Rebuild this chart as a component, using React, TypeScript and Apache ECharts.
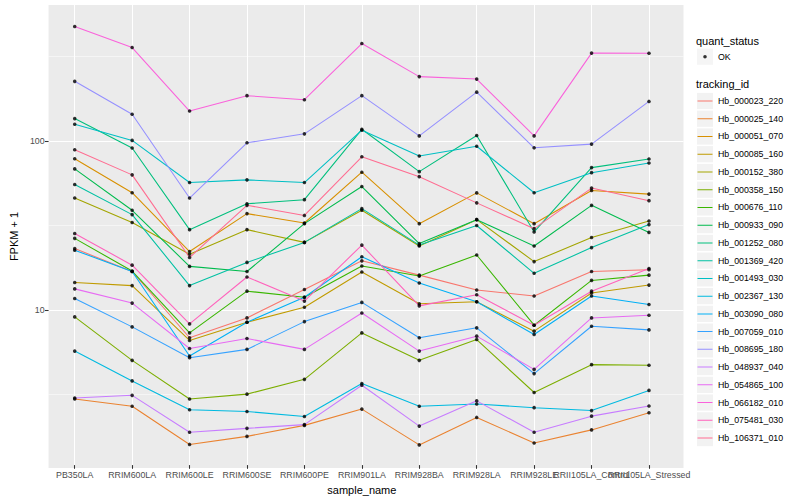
import React, { useEffect, useRef } from 'react';
import * as echarts from 'echarts';

const categories = [
  'PB350LA', 'RRIM600LA', 'RRIM600LE', 'RRIM600SE', 'RRIM600PE', 'RRIM901LA',
  'RRIM928BA', 'RRIM928LA', 'RRIM928LE', 'RRII105LA_Control', 'RRII105LA_Stressed',
];

const trackingIds = [
  'Hb_000023_220', 'Hb_000025_140', 'Hb_000051_070', 'Hb_000085_160', 'Hb_000152_380',
  'Hb_000358_150', 'Hb_000676_110', 'Hb_000933_090', 'Hb_001252_080', 'Hb_001369_420',
  'Hb_001493_030', 'Hb_002367_130', 'Hb_003090_080', 'Hb_007059_010', 'Hb_008695_180',
  'Hb_048937_040', 'Hb_054865_100', 'Hb_066182_010', 'Hb_075481_030', 'Hb_106371_010',
];

const colors = [
  '#F8766D', '#EA8331', '#D89000', '#C09B00', '#A3A500', '#7CAE00', '#39B600', '#00BB4E',
  '#00BF7D', '#00C1A3', '#00BFC4', '#00BAE0', '#00B0F6', '#35A2FF', '#9590FF', '#C77CFF',
  '#E76BF3', '#FA62DB', '#FF62BC', '#FF6C91',
];

// FPKM + 1 per sample, in the order of `categories`
const hb_000023_220 = [22.6, 16.5, 6.65, 8.73, 12.9, 19.1, 15.7, 12.8, 11.8, 16.5, 16.9];
const hb_000025_140 = [2.87, 2.6, 1.54, 1.72, 2.0, 2.5, 1.53, 2.23, 1.57, 1.88, 2.38];
const hb_000051_070 = [77.5, 48.6, 21.7, 36.5, 32.1, 64.4, 31.8, 48.5, 31.8, 50.1, 47.7];
const hb_000085_160 = [14.2, 13.6, 6.41, 8.23, 10.1, 16.4, 10.6, 10.9, 7.28, 12.3, 13.7];
const hb_000152_380 = [45.2, 32.3, 20.9, 29.3, 24.6, 38.2, 23.4, 33.6, 18.9, 26.3, 33.0];
const hb_000358_150 = [8.85, 4.88, 2.87, 3.07, 3.76, 7.11, 4.88, 6.49, 3.14, 4.6, 4.56];
const hb_000676_110 = [26.0, 16.6, 7.11, 12.6, 11.6, 17.8, 15.5, 20.7, 7.9, 14.6, 15.7];
const hb_000933_090 = [67.4, 38.2, 17.7, 16.5, 31.8, 52.9, 24.2, 33.6, 23.4, 40.9, 28.2];
const hb_001252_080 = [134.4, 89.7, 29.3, 41.8, 44.2, 116, 64.9, 106.6, 28.4, 68.6, 77.2];
const hb_001369_420 = [54.4, 36.0, 13.6, 18.7, 24.6, 39.1, 23.7, 31.0, 16.1, 22.9, 31.4];
const hb_001493_030 = [124.4, 99.6, 55.9, 58.0, 55.9, 114.6, 80.4, 91.9, 48.6, 64.0, 73.1];
const hb_002367_130 = [5.54, 3.68, 2.48, 2.42, 2.26, 3.55, 2.6, 2.68, 2.55, 2.45, 3.23];
const hb_003090_080 = [22.1, 16.5, 5.18, 8.23, 11.6, 20.2, 14.1, 10.9, 6.95, 11.8, 10.5];
const hb_007059_010 = [11.4, 7.72, 5.06, 5.67, 8.3, 10.8, 6.65, 7.62, 4.07, 7.79, 7.41];
const hb_008695_180 = [224, 142.5, 45.2, 96.4, 109, 184, 106, 193, 90.0, 94.7, 170];
const hb_048937_040 = [2.91, 3.02, 1.82, 1.92, 2.02, 3.47, 1.98, 2.8, 1.82, 2.27, 2.61];
const hb_054865_100 = [13.0, 10.7, 5.74, 6.58, 5.67, 9.34, 5.54, 6.8, 4.31, 8.73, 9.05];
const hb_066182_010 = [475, 356, 149, 184, 174, 376, 239, 231, 106, 330, 329];
const hb_075481_030 = [27.8, 18.0, 8.04, 15.3, 11.0, 23.7, 10.3, 12.0, 7.9, 12.6, 17.2];
const hb_106371_010 = [87.6, 62.1, 20.0, 40.9, 35.6, 79.6, 60.6, 42.3, 29.7, 51.8, 43.6];

const seriesValues = [
  hb_000023_220, hb_000025_140, hb_000051_070, hb_000085_160, hb_000152_380,
  hb_000358_150, hb_000676_110, hb_000933_090, hb_001252_080, hb_001369_420,
  hb_001493_030, hb_002367_130, hb_003090_080, hb_007059_010, hb_008695_180,
  hb_048937_040, hb_054865_100, hb_066182_010, hb_075481_030, hb_106371_010,
];

const yTickValues = [10, 100];
const yMinorValues = [3.1623, 31.623, 316.23];
const statusLabel = 'OK';

const FONT = '"Liberation Sans", Arial, Helvetica, sans-serif';
const Y_MIN = 1.16;
const Y_MAX = 638;

const LINE_ICON =
  'path://M0,0L0.01,0L0,0.01Z M16,16.2L15.99,16.2L16,16.19Z M0.5,7.6L15.5,7.6L15.5,8.6L0.5,8.6Z';
const DOT_ICON =
  'path://M0,0L0.01,0L0,0.01Z M16,16.2L15.99,16.2L16,16.19Z M6.2,8.1A1.8,1.8 0 1 0 9.8,8.1A1.8,1.8 0 1 0 6.2,8.1Z';

export default function App() {
  const ref = useRef<HTMLDivElement>(null);

  useEffect(() => {
    if (!ref.current) return;
    const chart = echarts.init(ref.current, null, { renderer: 'svg' });

    const lineSeries = trackingIds.map((id, i) => ({
      name: id,
      type: 'line',
      xAxisIndex: 1,
      yAxisIndex: 1,
      data: seriesValues[i],
      symbol: 'none',
      lineStyle: { color: colors[i], width: 1.07 },
      itemStyle: { color: colors[i] },
      z: 10,
      silent: true,
    }));

    const pointData: any[] = [];
    categories.forEach((c, j) => {
      seriesValues.forEach((vals) => pointData.push([c, vals[j]]));
    });

    const legendCommon = {
      orient: 'vertical',
      left: 697,
      padding: 0,
      itemWidth: 16,
      itemHeight: 16.2,
      itemGap: 1.54,
      selectedMode: false,
      textStyle: { fontSize: 8.8, color: '#000', fontFamily: FONT },
    };

    const option: any = {
      animation: false,
      textStyle: { fontFamily: FONT },
      title: [
        { text: 'quant_status', left: 696, top: 35, padding: 0,
          textStyle: { fontSize: 11, fontWeight: 'normal', color: '#000', fontFamily: FONT } },
        { text: 'tracking_id', left: 696, top: 78.6, padding: 0,
          textStyle: { fontSize: 11, fontWeight: 'normal', color: '#000', fontFamily: FONT } },
      ],
      legend: [
        { ...legendCommon, top: 48.6, data: [statusLabel], icon: 'rect', z: 4,
          itemStyle: { color: '#F2F2F2', borderWidth: 0 }, formatter: () => '' },
        { ...legendCommon, top: 48.6, data: [statusLabel], icon: DOT_ICON, z: 5,
          itemStyle: { borderWidth: 0 } },
        { ...legendCommon, top: 92.9, data: trackingIds, icon: 'rect', z: 4,
          itemStyle: { color: '#F2F2F2', borderWidth: 0 }, formatter: () => '' },
        { ...legendCommon, top: 92.9, data: trackingIds, icon: LINE_ICON, z: 5,
          itemStyle: { borderWidth: 0 } },
      ],
      grid: [
        { left: 40, right: 116.5, top: 5, bottom: 32, show: true,
          backgroundColor: '#EBEBEB', borderWidth: 0 },
        { left: 46, right: 122.3, top: 5, bottom: 32, show: false },
      ],
      xAxis: [
        { gridIndex: 0, type: 'category', data: categories, show: false },
        {
          gridIndex: 1,
          type: 'category',
          data: categories,
          boundaryGap: true,
          axisLine: { show: false },
          axisTick: { show: true, alignWithLabel: true, length: 3.7,
            lineStyle: { color: '#333333', width: 1.07 } },
          axisLabel: { interval: 0, fontSize: 8.8, color: '#4D4D4D', margin: 5, fontFamily: FONT },
          splitLine: { show: false },
          name: 'sample_name',
          nameLocation: 'middle',
          nameGap: 14.5,
          nameTextStyle: { fontSize: 11, color: '#000', fontFamily: FONT },
        },
      ],
      yAxis: [
        {
          gridIndex: 0,
          type: 'log',
          min: Y_MIN,
          max: Y_MAX,
          axisLine: { show: false },
          axisTick: { show: true, length: 3.7, customValues: yTickValues,
            lineStyle: { color: '#333333', width: 1.07 } },
          axisLabel: {
            fontSize: 8.8, color: '#4D4D4D', margin: 4, fontFamily: FONT,
            customValues: yTickValues,
            formatter: (v: number) => {
              const r = Math.round(v);
              return Math.abs(v - r) < 1e-6 && yTickValues.indexOf(r) >= 0 ? String(r) : '';
            },
          },
          splitLine: { show: true, lineStyle: { color: '#FFFFFF', width: 1.07 } },
          name: 'FPKM + 1',
          nameLocation: 'middle',
          nameGap: 21,
          nameTextStyle: { fontSize: 11, color: '#000', fontFamily: FONT },
        },
        { gridIndex: 1, type: 'log', min: Y_MIN, max: Y_MAX, show: false },
      ],
      series: [
        {
          name: 'minor-grid',
          type: 'line',
          xAxisIndex: 0,
          yAxisIndex: 0,
          data: [],
          silent: true,
          symbol: 'none',
          z: 1,
          markLine: {
            silent: true,
            symbol: 'none',
            z: 1,
            label: { show: false },
            lineStyle: { color: '#FFFFFF', width: 0.53, type: 'solid' },
            emphasis: { disabled: true },
            data: yMinorValues.map((v) => ({ yAxis: v })),
          },
        },
        ...lineSeries,
        {
          name: statusLabel,
          type: 'scatter',
          xAxisIndex: 1,
          yAxisIndex: 1,
          data: pointData,
          symbol: 'circle',
          symbolSize: 3.6,
          itemStyle: { color: '#000000' },
          z: 12,
          silent: true,
          markLine: {
            silent: true,
            symbol: 'none',
            z: 1,
            label: { show: false },
            lineStyle: { color: '#FFFFFF', width: 1.07, type: 'solid' },
            emphasis: { disabled: true },
            data: categories.map((c) => ({ xAxis: c })),
          },
        },
      ],
    };

    chart.setOption(option);
    return () => chart.dispose();
  }, []);

  return (
    <div
      ref={ref}
      style={{ position: 'absolute', left: 0, top: 0, width: 800, height: 500 }}
    />
  );
}
